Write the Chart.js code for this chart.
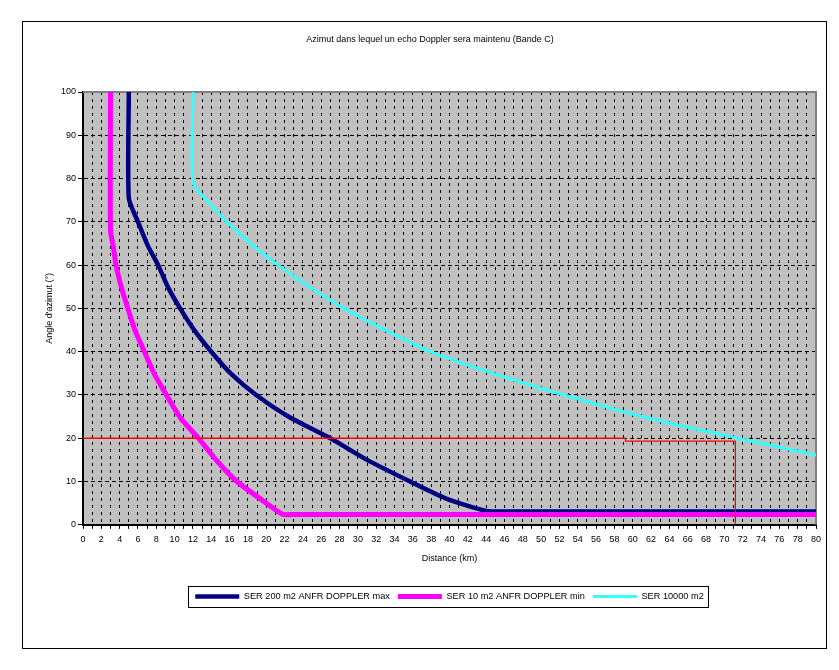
<!DOCTYPE html>
<html><head><meta charset="utf-8">
<script src="https://cdn.jsdelivr.net/npm/chart.js@4/dist/chart.umd.min.js"></script>
<style>
html,body{margin:0;padding:0;background:#fff;}
#wrap{position:relative;width:839px;height:670px;overflow:hidden;}
#frame{position:absolute;left:22px;top:21px;width:803px;height:626px;border:1px solid #000;pointer-events:none;}
canvas{position:absolute;left:0;top:0;}
</style></head><body>
<div id="wrap"><canvas id="c" width="839" height="670"></canvas><div id="frame"></div></div>
<script>
// ---- texts ----
const chartTitle = "Azimut dans lequel un echo Doppler sera maintenu (Bande C)";
const xAxisTitle = "Distance (km)";
const yAxisTitle = "Angle d'azimut (°)";
const seriesNames = ["SER 200 m2 ANFR DOPPLER max", "SER 10 m2 ANFR DOPPLER min", "SER 10000 m2"];

// ---- axis ranges / ticks ----
const xMin = 0, xMax = 80, xStep = 1, xLabelEvery = 2;
const yMin = 0, yMax = 100, yStep = 10;

// ---- series (distance km, azimut angle deg) ----
const ser200X = [5, 5, 6, 7.1, 8.2, 9.3, 10.6, 12.2, 14, 16.2, 18.9, 22.6, 27, 31, 35.7, 39.7, 44, 46, 80];
const ser200Y = [100, 75.5, 70, 64.4, 60, 54.8, 50, 44.8, 40, 34.8, 30, 24.8, 20, 15, 10, 6, 3.2, 3.1, 3.1];

const ser10X = [3, 3, 3.3, 3.6, 4.2, 4.9, 5.7, 6.7, 7.8, 9.1, 10.6, 12.6, 14.6, 16.8, 20, 21.8, 23, 80];
const ser10Y = [100, 68, 64.4, 60, 54.8, 50, 44.8, 40, 34.8, 30, 24.8, 20, 14.8, 10, 5, 2.4, 2.4, 2.4];

const ser10000X = [12, 12, 13.5, 15.7, 18.3, 21.3, 24.7, 28.5, 33, 37.9, 45.6, 52.5, 62, 71.5, 80];
const ser10000Y = [100, 79, 75, 70, 65, 60, 55, 50, 45, 40, 34.4, 30, 24.5, 20, 16.1];

// red reference line
const refX = [0, 59.2, 59.2, 71.2, 71.2];
const refY = [20.0, 20.0, 19.35, 19.35, 0];

const toPts = (xs, ys) => xs.map((x, i) => ({x: x, y: ys[i]}));

const FONT = "'Liberation Sans', Arial, sans-serif";

const plotPlugin = {
  id: 'plotDecor',
  beforeDraw(chart) {
    const {ctx, chartArea: a} = chart;
    ctx.save();
    ctx.fillStyle = '#c0c0c0';
    ctx.fillRect(a.left, a.top, a.right - a.left, a.bottom - a.top);
    ctx.restore();
  },
  beforeDatasetsDraw(chart) {
    const {ctx, chartArea: a} = chart;
    ctx.save();
    ctx.strokeStyle = '#808080';
    ctx.lineWidth = 2;
    ctx.beginPath();
    ctx.moveTo(a.left, a.top);
    ctx.lineTo(a.right, a.top);
    ctx.lineTo(a.right, a.bottom);
    ctx.stroke();
    ctx.restore();
  },
  afterDraw(chart) {
    const lg = chart.legend;
    if (!lg || !lg.legendHitBoxes || !lg.legendHitBoxes.length) return;
    let l = Infinity, r = -Infinity, t = Infinity, b = -Infinity;
    lg.legendHitBoxes.forEach(h => {
      l = Math.min(l, h.left); r = Math.max(r, h.left + h.width);
      t = Math.min(t, h.top); b = Math.max(b, h.top + h.height);
    });
    const ctx = chart.ctx;
    ctx.save();
    ctx.strokeStyle = '#000';
    ctx.lineWidth = 1;
    ctx.strokeRect(Math.round(l - 7) + 0.5, Math.round(t - 6) + 0.5, Math.round(r - l + 12), Math.round(b - t + 12));
    ctx.restore();
  }
};

const colors = ['#000080', '#ff00ff', '#33ffff'];
const widths = [4.5, 5, 3];

new Chart(document.getElementById('c'), {
  type: 'scatter',
  data: {
    datasets: [
      {label: 'ref', data: toPts(refX, refY), borderColor: '#ff0000', borderWidth: 1.3, showLine: true, pointRadius: 0, tension: 0, order: 0},
      {label: seriesNames[2], data: toPts(ser10000X, ser10000Y), borderColor: colors[2], borderWidth: widths[2], showLine: true, pointRadius: 0, tension: 0.2, order: 1},
      {label: seriesNames[1], data: toPts(ser10X, ser10Y), borderColor: colors[1], borderWidth: widths[1], showLine: true, pointRadius: 0, tension: 0.2, order: 2},
      {label: seriesNames[0], data: toPts(ser200X, ser200Y), borderColor: colors[0], borderWidth: widths[0], showLine: true, pointRadius: 0, tension: 0.2, order: 3}
    ]
  },
  options: {
    responsive: false,
    animation: false,
    devicePixelRatio: 1,
    layout: {padding: {left: 44, right: 23, top: 0, bottom: 59}},
    elements: {line: {borderJoinStyle: 'round', borderCapStyle: 'butt', capBezierPoints: true}},
    plugins: {
      tooltip: {enabled: false},
      title: {
        display: true, text: chartTitle, color: '#000',
        font: {family: FONT, size: 9, weight: 'normal'},
        padding: {top: 34.6, bottom: 46.6}
      },
      legend: {
        display: true, position: 'bottom', fullSize: false,
        labels: {
          color: '#000', font: {family: FONT, size: 9.2},
          usePointStyle: true, pointStyleWidth: 44, boxHeight: 9, padding: 8,
          generateLabels: () => seriesNames.map((n, i) => ({
            text: n, strokeStyle: colors[i], fillStyle: colors[i], lineWidth: widths[i],
            pointStyle: 'line', hidden: false, datasetIndex: 3 - i
          }))
        }
      }
    },
    scales: {
      x: {
        type: 'linear', min: xMin, max: xMax,
        afterFit: s => { s.height = 59; },
        ticks: {
          stepSize: xStep, autoSkip: false, maxRotation: 0, minRotation: 0, padding: 5,
          color: '#000', font: {family: FONT, size: 9},
          callback: v => (v % xLabelEvery === 0 ? String(v) : '')
        },
        grid: {color: '#000', lineWidth: 1, drawTicks: true, tickLength: 4, tickColor: '#000', tickWidth: 1},
        border: {display: true, color: '#000', width: 2, dash: [3, 4]},
        title: {display: true, text: xAxisTitle, color: '#000', font: {family: FONT, size: 9}, padding: {top: 0, bottom: 20}}
      },
      y: {
        type: 'linear', min: yMin, max: yMax,
        afterFit: s => { s.width = 39; },
        ticks: {stepSize: yStep, padding: 2, color: '#000', font: {family: FONT, size: 9}},
        grid: {color: '#000', lineWidth: 1, drawTicks: true, tickLength: 5, tickColor: '#000', tickWidth: 1},
        border: {display: true, color: '#000', width: 2, dash: [4, 3]},
        title: {display: true, text: yAxisTitle, color: '#000', font: {family: FONT, size: 9}, padding: {top: 0, bottom: 0}}
      }
    }
  },
  plugins: [plotPlugin]
});
</script>
</body></html>
